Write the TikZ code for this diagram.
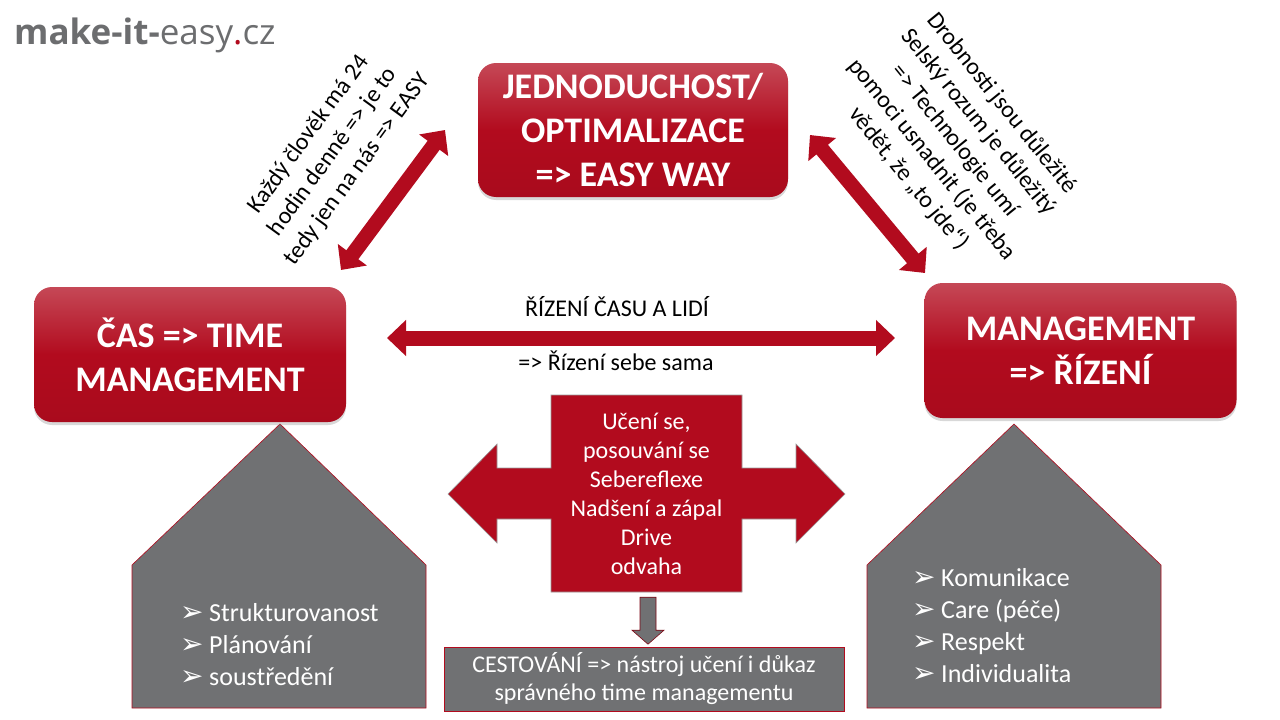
\documentclass[tikz,border=0pt]{standalone}
\usepackage{fontspec}
\setmainfont{Carlito}
\newfontfamily\logofont{Open Sans}
\newfontfamily\arrowfont{DejaVu Sans}
\usepackage{xcolor}
\usepackage{tikz}
\usetikzlibrary{arrows.meta,shadows}

\definecolor{easyred}{RGB}{178,11,30}
\definecolor{easygray}{RGB}{112,113,115}
\definecolor{logogray}{RGB}{108,109,111}

\newcommand{\bul}{\makebox[29pt][l]{\arrowfont\fontsize{28}{28}\selectfont ➢}}

\begin{document}
\begin{tikzpicture}[x=1pt,y=-1pt,
        bigbox/.style={rounded corners=18pt, top color=easyred!75!white, bottom color=easyred!95!black, middle color=easyred,
            text=white, font=\fontsize{36}{44}\selectfont\bfseries, align=center,
            minimum width=312pt, minimum height=135pt,
            drop shadow={opacity=0.3, shadow xshift=0pt, shadow yshift=-3pt}},
        bigarrow/.style={easyred, line width=15pt,
            arrows={Triangle[length=19pt,width=35pt]-Triangle[length=19pt,width=35pt]}},
        house/.style={fill=easygray, draw=easyred, line width=0.6pt},
        listtext/.style={text=white, font=\fontsize{26}{32}\selectfont, align=left, anchor=west, inner sep=0pt},
        note/.style={font=\fontsize{24}{29}\selectfont, align=center}]
        \useasboundingbox (0,0) rectangle (1280,720);
        \fill[white] (0,0) rectangle (1280,720);

        \node[anchor=base west, inner sep=0pt, text=logogray, font=\logofont\fontsize{35}{35}\selectfont] (logo) at (14,44)
            {\textbf{make-it-}easy\textcolor{easyred}{.}cz};

        \draw[house] (280,424) -- (426,565) -- (426,708) -- (132,708) -- (132,565) -- cycle;
        \draw[house] (1014,424) -- (1161,565) -- (1161,708) -- (867,708) -- (867,565) -- cycle;

        \node[bigbox, minimum width=310pt, minimum height=134pt] (easy) at (633,130) {JEDNODUCHOST/\\OPTIMALIZACE\\=> EASY WAY};
        \node[bigbox] (cas) at (190,354.5) {ČAS => TIME\\MANAGEMENT};
        \node[bigbox] (rizeni) at (1080.5,350.5) {MANAGEMENT\\=> ŘÍZENÍ};

        \coordinate (casup) at (341,270);
        \coordinate (easyleft) at (445,130);
        \coordinate (easyright) at (810,135);
        \coordinate (rizeniup) at (925,273);
        \coordinate (casright) at (387,338);
        \coordinate (rizenileft) at (895,338);

        \draw[bigarrow] (casup) -- (easyleft);
        \draw[bigarrow] (easyright) -- (rizeniup);
        \draw[bigarrow] (casright) -- (rizenileft);

        \node[note, rotate=54, font=\fontsize{24}{30}\selectfont] (casnote) at (333,152) {Každý člověk má 24\\hodin denně => je to\\tedy jen na nás => EASY};
        \node[note, rotate=-51, font=\fontsize{24}{30}\selectfont] (easynote) at (955,141) {Drobnosti jsou důležité\\Selský rozum je důležitý\\=> Technologie umí\\pomoci usnadnit (je třeba\\vědět, že „to jde“)};

        \node[note] (rizenitop) at (617,307) {ŘÍZENÍ ČASU A LIDÍ};
        \node[note] (rizenibottom) at (616,361) {=> Řízení sebe sama};

        \draw[fill=easyred, draw=easygray!70, line width=0.6pt] (448,494) -- (497,444) -- (497,468) -- (551,468) -- (551,395)
            -- (742,395) -- (742,468) -- (796,468) -- (796,444) -- (845,494) -- (796,543) -- (796,519) -- (742,519)
            -- (742,592) -- (551,592) -- (551,519) -- (497,519) -- (497,543) -- cycle;
        \node[note, text=white, minimum width=191pt, minimum height=197pt] (uceni) at (646.5,493.5)
            {Učení se,\\posouvání se\\Sebereflexe\\Nadšení a zápal\\Drive\\odvaha};

        \node[fill=easygray, draw=easyred, line width=0.8pt, minimum width=400pt, minimum height=64pt, text=white,
            font=\fontsize{24}{28}\selectfont, align=center] (cest) at (644,679)
            {CESTOVÁNÍ => nástroj učení i důkaz\\správného time managementu};

        \draw[fill=easygray, draw=easyred!70!black, line width=0.6pt] ([xshift=-6.5pt,yshift=-5pt]uceni.south) -- ++(0,33) -- ++(-8,0)
            -- ++(16,14) -- ++(16,-14) -- ++(-8,0) -- ++(0,-33) -- cycle;

        \node[listtext] (caslist) at (180,645) {\bul Strukturovanost\\\bul Plánování\\\bul soustředění};
        \node[listtext] (rizenilist) at (912,626) {\bul Komunikace\\\bul Care (péče)\\\bul Respekt\\\bul Individualita};
    \end{tikzpicture}
\end{document}
